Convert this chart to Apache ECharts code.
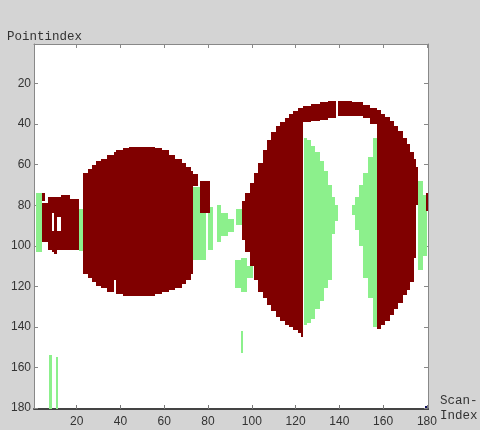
<!DOCTYPE html>
<html>
<head>
<meta charset="utf-8">
<script src="https://cdn.jsdelivr.net/npm/echarts@6/dist/echarts.min.js"></script>
<style>
  html, body { margin: 0; padding: 0; background: #d4d4d4; }
  #chart { width: 480px; height: 430px; }
</style>
</head>
<body>
<div id="chart"></div>
<script>
// tick labels on both axes
const scanTicks = [20, 40, 60, 80, 100, 120, 140, 160, 180];
const pointTicks = [20, 40, 60, 80, 100, 120, 140, 160, 180];

// cells of class "object" (dark red): [scanFrom, scanTo, pointFrom, pointTo]
const redCells = [
    // small block on the left
    [4, 5.5, 74, 78], [4, 7, 79, 98], [7, 8.5, 76, 102],
    [8.5, 9.7, 76, 84], [8.5, 9.7, 92.5, 103], [9.7, 11, 76, 104],
    [11, 13, 76, 86], [11, 13, 92.5, 102], [13, 17, 75, 102], [17, 21, 77, 102],
    // left ellipse
    [23, 25, 64, 114], [25, 27, 62, 116], [27, 29, 60, 118], [29, 31, 58, 120],
    [31, 34, 57, 121], [34, 37, 55, 123], [37, 38, 54, 117], [38, 41, 53, 124],
    [41, 44, 52, 125], [44, 56, 51.5, 125], [56, 59, 52, 124], [59, 62, 53, 123],
    [62, 65, 55, 122], [65, 68, 57, 121], [68, 70, 59, 119], [70, 72, 61, 117],
    [72, 73, 63, 114], [73, 75.5, 64.5, 70.5], [76.5, 81, 68, 84],
    // right ellipse, left arc
    [95.5, 97, 78, 97], [97, 99, 74, 103], [99, 101, 69, 110], [101, 103, 64, 117],
    [103, 105, 59, 123], [105, 107, 53, 126], [107, 109, 48, 129], [109, 111, 44, 132],
    [111, 113, 41, 135], [113, 115, 39, 137], [115, 117, 37, 139], [117, 119, 35, 140],
    [119, 121, 33.5, 141.5], [121, 123.5, 32, 143], [122.5, 123.5, 143, 145],
    // top ring
    [123.5, 127, 31, 39], [127, 131, 30, 38.5], [131, 135, 29, 38], [135, 138.6, 28.5, 37],
    [139.4, 146, 28.5, 36], [146, 151, 29, 36], [151, 154, 30.5, 37], [154, 157, 32, 40],
    // right arc
    [157, 159, 33, 141], [159, 161, 35, 139], [161, 163, 36.5, 137], [163, 165, 38.5, 134],
    [165, 167, 41, 131], [167, 169, 43.5, 128], [169, 171, 47, 124.5], [171, 172.5, 50, 122],
    [172.5, 174, 54, 118], [174, 175, 57, 106], [175, 176, 61, 80],
    [179.5, 180.5, 74, 83]
];

// cells of class "ground" (light green)
const greenCells = [
    [1.5, 4, 74, 103], [21, 23, 82, 102.5],
    [7.5, 8.5, 154, 180.5], [10.5, 11.5, 155, 180.5],
    [73, 76.5, 71, 107], [76.5, 79, 84, 107], [80, 82.5, 81, 102],
    [84, 86, 80, 98], [86, 89, 84, 95], [89, 92, 87, 93],
    [93, 97, 82, 90],
    [92.5, 95, 107, 121], [95, 98, 106, 123], [98, 100.5, 110, 116],
    [95, 96, 142, 153],
    // inside right ellipse, left part
    [124, 125, 47, 139], [125, 127, 48, 138], [127, 129, 51, 136], [129, 131, 54, 131],
    [131, 133, 58, 127], [133, 135, 63, 121], [135, 136.5, 70, 117], [136.5, 138, 76, 94],
    [138, 139.5, 80, 88],
    // inside right ellipse, right part
    [155.5, 157, 47, 140], [153, 155.5, 56, 126], [151, 153, 64, 116], [149, 151, 70, 100],
    [147, 149, 76, 92], [146, 147, 80, 85],
    // right of the ellipse
    [176, 178, 68, 112], [178, 180, 75, 105]
];

const chart = echarts.init(document.getElementById('chart'));

function drawCell(params, api) {
    const p0 = api.coord([api.value(0), api.value(2)]);
    const p1 = api.coord([api.value(1), api.value(3)]);
    const x = Math.round(Math.min(p0[0], p1[0]));
    const y = Math.round(Math.min(p0[1], p1[1]));
    const w = Math.round(Math.max(p0[0], p1[0])) - x;
    const h = Math.round(Math.max(p0[1], p1[1])) - y;
    return {
        type: 'rect',
        shape: { x: x, y: y, width: w, height: h },
        style: { fill: api.visual('color') }
    };
}

const labelFont = { color: '#333', fontSize: 12, fontFamily: 'Liberation Sans, Arial, sans-serif' };

chart.setOption({
    backgroundColor: '#d4d4d4',
    animation: false,
    grid: { left: 34, right: 52, top: 44, bottom: 21, show: true, backgroundColor: '#fff', borderWidth: 0 },
    graphic: [
        { type: 'text', left: 7, top: 30, style: { text: 'Pointindex', font: '12.5px "Liberation Mono", monospace', fill: '#333' } },
        { type: 'text', left: 440, top: 393, style: { text: 'Scan-\nIndex', font: '12.5px "Liberation Mono", monospace', fill: '#333', lineHeight: 15 } },
        { type: 'rect', left: 425, top: 406, shape: { width: 4, height: 4 }, style: { fill: '#101060' } }
    ],
    xAxis: [
        {
            type: 'value', min: 0.5, max: 180.5, position: 'bottom',
            splitLine: { show: false },
            axisLine: { onZero: false, lineStyle: { color: '#444', width: 2 } },
            axisTick: { inside: true, length: 4, customValues: scanTicks, lineStyle: { color: '#777' } },
            axisLabel: Object.assign({ customValues: scanTicks, margin: 7 }, labelFont)
        },
        {
            type: 'value', min: 0.5, max: 180.5, position: 'top',
            splitLine: { show: false },
            axisLine: { onZero: false, lineStyle: { color: '#888' } },
            axisTick: { inside: true, length: 4, customValues: scanTicks, lineStyle: { color: '#888' } },
            axisLabel: { show: false }
        }
    ],
    yAxis: [
        {
            type: 'value', min: 0.5, max: 180.5, inverse: true, position: 'left',
            splitLine: { show: false },
            axisLine: { show: true, onZero: false, lineStyle: { color: '#888' } },
            axisTick: { show: true, inside: true, length: 4, customValues: pointTicks, lineStyle: { color: '#888' } },
            axisLabel: Object.assign({ customValues: pointTicks, margin: 3 }, labelFont)
        },
        {
            type: 'value', min: 0.5, max: 180.5, inverse: true, position: 'right',
            splitLine: { show: false },
            axisLine: { show: true, onZero: false, lineStyle: { color: '#888' } },
            axisTick: { show: true, inside: true, length: 4, customValues: pointTicks, lineStyle: { color: '#888' } },
            axisLabel: { show: false }
        }
    ],
    series: [
        {
            name: 'ground', type: 'custom', renderItem: drawCell, clip: true,
            itemStyle: { color: '#8cf08c' },
            encode: { x: [0, 1], y: [2, 3] },
            data: greenCells
        },
        {
            name: 'object', type: 'custom', renderItem: drawCell, clip: true,
            itemStyle: { color: '#800000' },
            encode: { x: [0, 1], y: [2, 3] },
            data: redCells
        }
    ]
});
</script>
</body>
</html>
